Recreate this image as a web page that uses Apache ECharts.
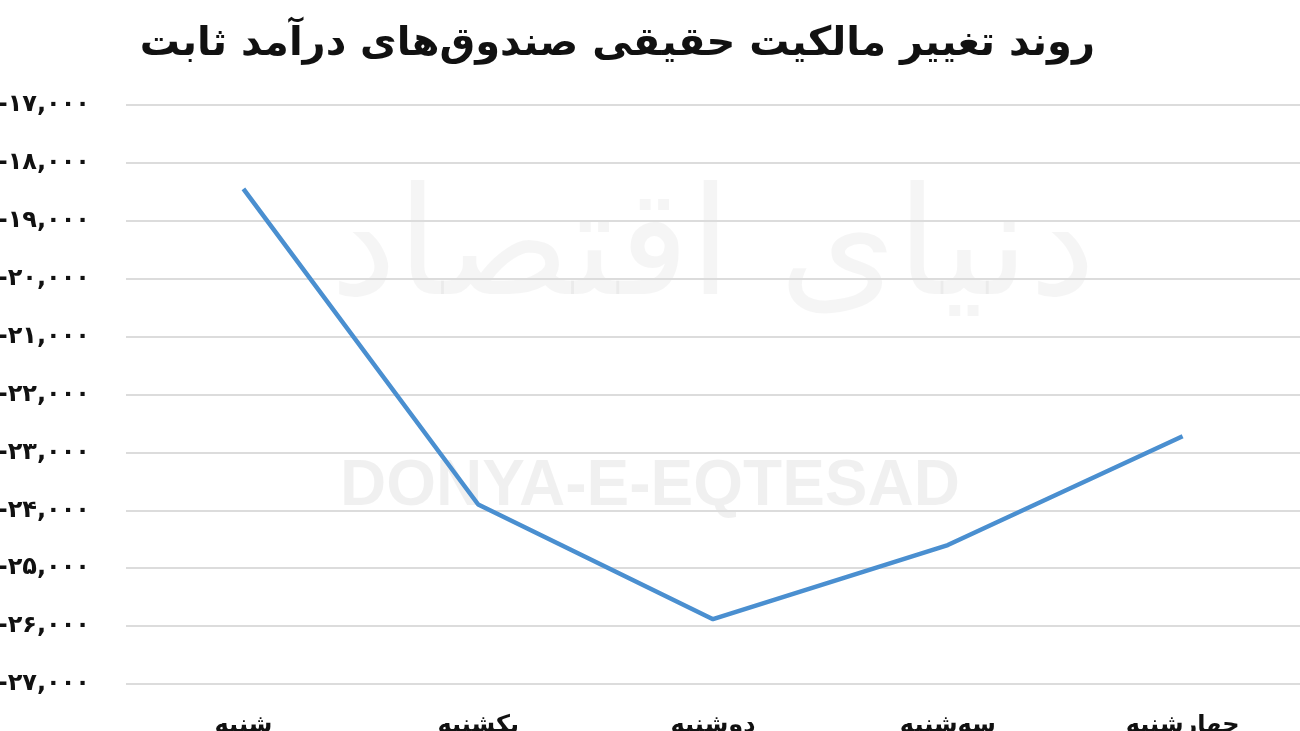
<!DOCTYPE html>
<html><head><meta charset="utf-8">
<script src="https://cdn.jsdelivr.net/npm/echarts@6/dist/echarts.min.js"></script>
<style>html,body{margin:0;padding:0;background:#fff}#c{width:1300px;height:731px}</style>
</head><body><div id="c"></div>
<script>
const titleText = 'روند تغییر مالکیت حقیقی صندوق‌های درآمد ثابت';
const categories = ['شنبه', 'یکشنبه', 'دوشنبه', 'سه‌شنبه', 'چهارشنبه'];
const values = [-18450, -23900, -25880, -24600, -22720];
const yMin = -27000, yMax = -17000, yStep = 1000;

function toFa(n) {
  const s = Math.abs(n).toString().replace(/\B(?=(\d{3})+(?!\d))/g, ',');
  const fa = s.replace(/\d/g, d => '۰۱۲۳۴۵۶۷۸۹'[d]);
  return (n < 0 ? '-' : '') + fa;
}

const chart = echarts.init(document.getElementById('c'), null, {renderer: 'canvas'});
chart.setOption({
  backgroundColor: '#fff',
  animation: false,
  title: {
    text: titleText, right: 200, top: 20,
    textStyle: {fontFamily: 'DejaVu Sans', fontWeight: 'bold', fontSize: 40, color: '#111'}
  },
  graphic: [
    {type: 'text', left: 340, top: 455, z: 0, silent: true,
     style: {text: 'DONYA-E-EQTESAD', fontFamily: 'Liberation Sans', fontWeight: 'bold', fontSize: 64, fill: 'rgba(0,0,0,0.06)'}},
    {type: 'text', left: 330, top: 180, z: 0, silent: true,
     style: {text: 'دنیای اقتصاد', fontFamily: 'DejaVu Sans', fontSize: 150, fill: 'rgba(0,0,0,0.04)'}}
  ],
  grid: {left: 126, right: 0, top: 105, bottom: 47, containLabel: false, outerBoundsMode: 'none'},
  xAxis: {
    type: 'category', data: categories, boundaryGap: true,
    axisLine: {show: false}, axisTick: {show: false},
    axisLabel: {margin: 30, fontFamily: 'DejaVu Sans', fontWeight: 'bold', fontSize: 24, color: '#111'}
  },
  yAxis: {
    type: 'value', min: yMin, max: yMax, interval: yStep,
    axisLine: {show: false}, axisTick: {show: false},
    splitLine: {lineStyle: {color: '#dcdcdc', width: 2}},
    axisLabel: {margin: 36, fontFamily: 'DejaVu Sans', fontWeight: 'bold', fontSize: 24, color: '#111',
      formatter: v => toFa(v)}
  },
  series: [{
    type: 'line', data: values, symbol: 'none',
    lineStyle: {color: '#4a8fd0', width: 4.5}
  }]
});
</script></body></html>
